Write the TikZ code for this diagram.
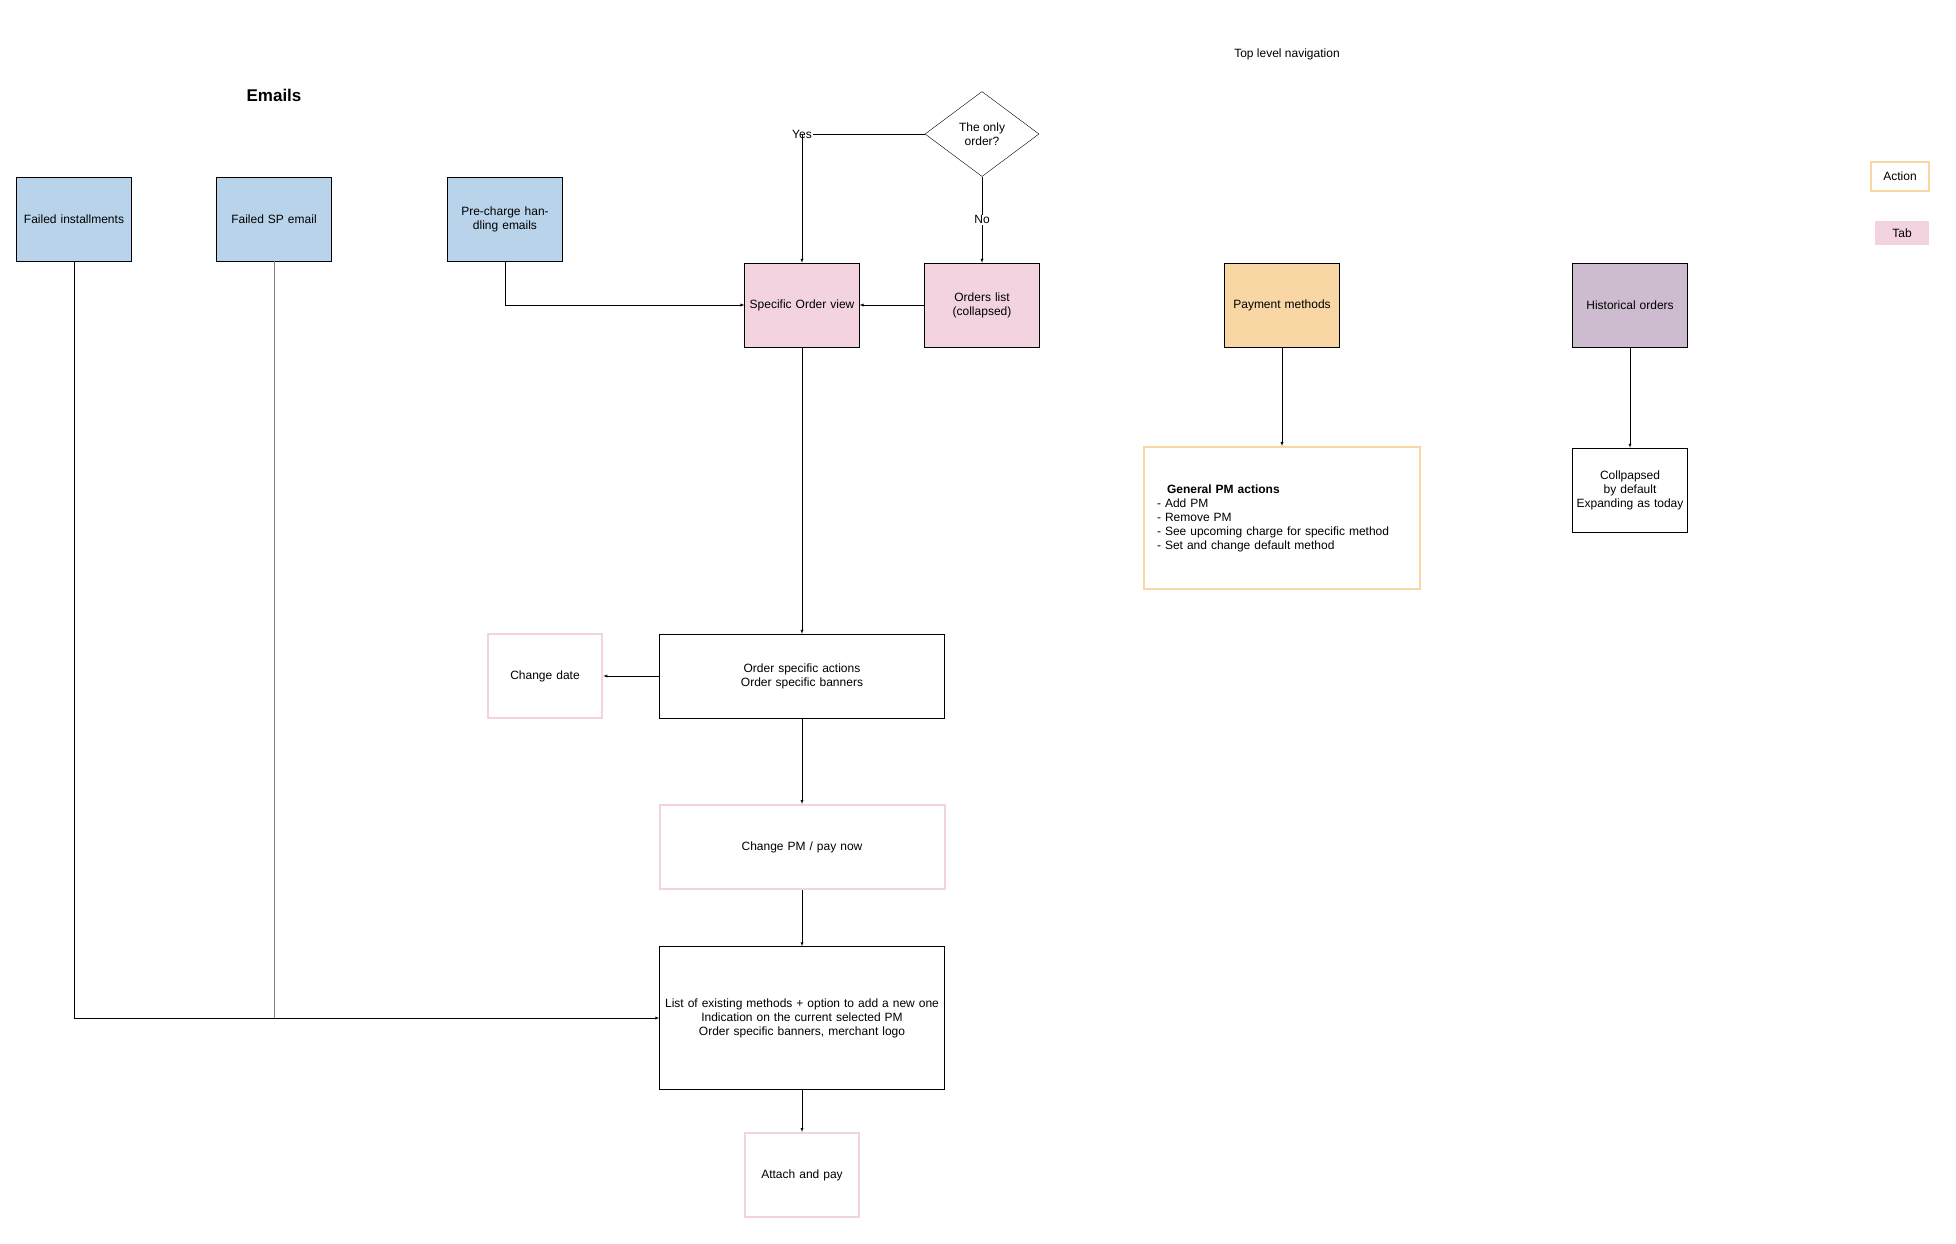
\documentclass[tikz,border=0pt]{standalone}
\usepackage{fontspec}
\setmainfont{Liberation Sans}
\usetikzlibrary{shapes.geometric}
\definecolor{mailblue}{HTML}{B9D3EA}
\definecolor{tabpink}{HTML}{F2D3DF}
\definecolor{actorange}{HTML}{F9D7A5}
\definecolor{histpurple}{HTML}{CDBCD0}
\begin{document}
\begin{tikzpicture}[
x=1pt,y=-1pt,
box/.style={
  draw,
  minimum width=114pt,
  minimum height=84pt,
  align=center,
  text width=108pt,
  font=\fontsize{12}{14}\selectfont
  },
mail/.style={box,fill=mailblue},
tab/.style={box,fill=tabpink},
act/.style={box,draw=tabpink,line width=2pt},
wide/.style={box,minimum width=285pt,text width=275pt},
lbl/.style={font=\fontsize{12}{14}\selectfont,fill=white,inner sep=1pt},
every path/.append style={-latex}
]
\useasboundingbox (0,0) rectangle (1956,1244);
\node[font=\bfseries\fontsize{17}{20}\selectfont] (title) at (274,95) {Emails};
\node[font=\fontsize{12}{14}\selectfont] (nav) at (1287,54) {Top level navigation};
% emails
\node[mail] (inst) at (74,219) {Failed installments};
\node[mail] (sp) at (274,219) {Failed SP email};
\node[mail] (pre) at (505,219) {Pre-charge handling emails};
% orders
\node[draw,diamond,aspect=1.35,minimum width=114pt,minimum height=85pt,align=center,
  font=\fontsize{12}{14}\selectfont] (only) at (982,134) {The only\\order?};
\node[tab] (spec) at (802,305) {Specific Order view};
\node[tab] (list) at (982,305) {Orders list (collapsed)};
\node[box,fill=actorange] (pm) at (1282,305) {Payment methods};
\node[box,fill=histpurple] (hist) at (1630,305) {Historical orders};
\node[box,draw=actorange,line width=2pt,minimum width=276pt,minimum height=142pt,
  text width=250pt,align=left] (gen) at (1282,518)
  {\hspace*{10pt}\textbf{General PM actions}\\- Add PM\\- Remove PM\\- See upcoming charge for specific method\\- Set and change default method};
\node[box] (coll) at (1630,490) {Collpapsed by default\\Expanding as today};
\node[wide] (osa) at (802,676) {Order specific actions\\Order specific banners};
\node[act] (date) at (545,676) {Change date};
\node[wide,draw=tabpink,line width=2pt] (cpm) at (802,847) {Change PM / pay now};
\node[wide,minimum height=143pt] (exist) at (802,1018)
  {List of existing methods + option to add a new one\\Indication on the current selected PM\\Order specific banners, merchant logo};
\node[act] (pay) at (802,1175) {Attach and pay};
% legend
\node[draw=actorange,line width=2pt,minimum width=58pt,minimum height=29pt,
  font=\fontsize{12}{14}\selectfont] (lega) at (1900,176) {Action};
\node[fill=tabpink,minimum width=54pt,minimum height=24pt,
  font=\fontsize{12}{14}\selectfont] (legt) at (1902,233) {Tab};
% connectors
\draw[-] (only.west) -- (spec.north |- only.west) node[lbl] {Yes};
\draw (spec.north |- only.west) -- (spec.north);
\draw (only.south) -- node[lbl] {No} (list.north);
\draw (list) -- (spec);
\draw (pre.south) |- (spec.west);
\draw (spec) -- (osa);
\draw (osa) -- (date);
\draw (osa) -- (cpm);
\draw (cpm) -- (exist);
\draw (exist) -- (pay);
\draw (inst.south) |- (exist.west);
\draw[-,gray] (sp.south) -- (sp.south |- exist.west);
\draw (pm) -- (gen);
\draw (hist) -- (coll);
\end{tikzpicture}
\end{document}
